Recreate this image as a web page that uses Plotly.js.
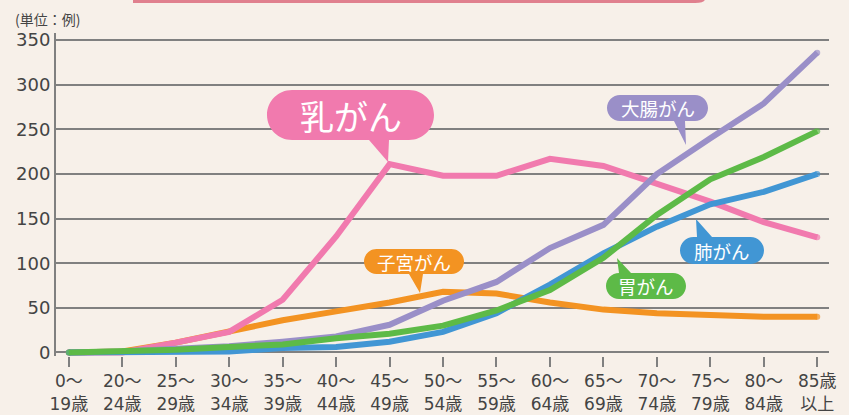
<!DOCTYPE html>
<html>
<head>
<meta charset="utf-8">
<script src="https://cdn.plot.ly/plotly-3.0.1.min.js"></script>
<style>
html,body{margin:0;padding:0;background:#f7f0e9;}
#chart{width:849px;height:415px;}
</style>
</head>
<body>
<div id="chart"></div>
<script>
// ---- data ----
const categories = ["0〜<br>19歳","20〜<br>24歳","25〜<br>29歳","30〜<br>34歳","35〜<br>39歳","40〜<br>44歳","45〜<br>49歳","50〜<br>54歳","55〜<br>59歳","60〜<br>64歳","65〜<br>69歳","70〜<br>74歳","75〜<br>79歳","80〜<br>84歳","85歳<br>以上"];
const uterus     = [0,1,11,23,36,46,56,68,66,56,48,44,42,40,40];
const breast     = [0,0,11,23,59,130,211,198,198,217,209,189,169,146,129];
const colorectal = [0,1,4,7,12,18,31,58,79,117,143,200,240,279,336];
const lung       = [0,0,1,1,5,6,12,23,44,76,111,141,166,180,200];
const stomach    = [0,1,3,6,9,16,21,30,47,70,106,154,194,219,248];
const yTicks = [0,50,100,150,200,250,300,350];
const seriesNames = ["子宮がん","乳がん","大腸がん","肺がん","胃がん"];

// ---- layout geometry ----
const W = 849, H = 415;
const M = {l:56, r:20, t:33, b:59};
const PW = W - M.l - M.r, PH = H - M.t - M.b;
const px = x => (x - M.l) / PW;
const py = y => 1 - (y - M.t) / PH;
const FONT = '"Noto Sans CJK JP", "Noto Sans", sans-serif';
const NUMFONT = '"DejaVu Sans", "Noto Sans CJK JP", sans-serif';

const colors = {
  uterus:'#f39322', breast:'#f17aae', colorectal:'#9a8fc8', lung:'#4196d4', stomach:'#5dba47'
};

function endMarkers(n){ const s = new Array(n).fill(0); s[0]=6; s[n-1]=6; return s; }

function trace(name, y, color){
  return {
    type:'scatter', mode:'lines+markers', name:name,
    x:categories, y:y,
    line:{color:color, width:6},
    marker:{color:color, size:endMarkers(y.length), line:{width:0}},
    hoverinfo:'skip', showlegend:false
  };
}

const data = [
  trace(seriesNames[0], uterus, colors.uterus),
  trace(seriesNames[1], breast, colors.breast),
  trace(seriesNames[2], colorectal, colors.colorectal),
  trace(seriesNames[3], lung, colors.lung),
  trace(seriesNames[4], stomach, colors.stomach)
];

// bubble path in pixel space -> paper coords
function bubble(x0,y0,x1,y1,tip){
  const r = (y1-y0)/2, k = 0.5523*r;
  const P = (x,y) => px(x).toFixed(5)+','+py(y).toFixed(5);
  let d = 'M'+P(x0+r,y0);
  if(tip.side==='top'){ d += ' L'+P(tip.a,y0)+' L'+P(tip.x,tip.y)+' L'+P(tip.b,y0); }
  d += ' L'+P(x1-r,y0);
  d += ' C'+P(x1-r+k,y0)+' '+P(x1,y0+r-k)+' '+P(x1,y0+r);
  d += ' C'+P(x1,y0+r+k)+' '+P(x1-r+k,y1)+' '+P(x1-r,y1);
  if(tip.side==='bottom'){ d += ' L'+P(tip.b,y1)+' L'+P(tip.x,tip.y)+' L'+P(tip.a,y1); }
  d += ' L'+P(x0+r,y1);
  d += ' C'+P(x0+r-k,y1)+' '+P(x0,y1-r+k)+' '+P(x0,y1-r);
  d += ' C'+P(x0,y0+r-k)+' '+P(x0+r-k,y0)+' '+P(x0+r,y0)+' Z';
  return d;
}

const bubbles = [
  {text:'乳がん', color:colors.breast, x0:267,y0:90,x1:434,y1:140, size:34,
   tip:{side:'bottom',a:369,b:389,x:388,y:162}},
  {text:'大腸がん', color:colors.colorectal, x0:607,y0:95,x1:708,y1:121, size:18.5,
   tip:{side:'bottom',a:674,b:685,x:686,y:145}},
  {text:'子宮がん', color:colors.uterus, x0:364,y0:249,x1:464,y1:274, size:18.5,
   tip:{side:'bottom',a:409,b:423,x:420,y:293}},
  {text:'肺がん', color:colors.lung, x0:680,y0:237,x1:764,y1:264, size:18.5,
   tip:{side:'top',a:697,b:712,x:696,y:219}},
  {text:'胃がん', color:colors.stomach, x0:606,y0:273,x1:686,y1:299, size:18.5,
   tip:{side:'top',a:619,b:631,x:617,y:258}}
];

const shapes = [
  // top banner edge
  {type:'path', xref:'paper', yref:'paper', layer:'above', line:{width:0}, fillcolor:'#e0808e',
   path:'M'+px(133)+','+py(-20)+' L'+px(705)+','+py(-20)+' L'+px(705)+','+py(-1)+
        ' Q'+px(705)+','+py(3)+' '+px(695)+','+py(3)+' L'+px(133)+','+py(3)+' Z'}
];
const annotations = [
  {xref:'paper', yref:'paper', x:px(13), y:py(19), xanchor:'left', yanchor:'middle',
   text:'(単位：例)', showarrow:false, font:{family:FONT, size:14, color:'#444'}}
];
bubbles.forEach(b=>{
  shapes.push({type:'path', xref:'paper', yref:'paper', layer:'above', line:{width:0},
               fillcolor:b.color, path:bubble(b.x0,b.y0,b.x1,b.y1,b.tip)});
  annotations.push({xref:'paper', yref:'paper', x:px((b.x0+b.x1)/2), y:py((b.y0+b.y1)/2),
    xanchor:'center', yanchor:'middle', text:b.text, showarrow:false,
    font:{family:FONT, size:b.size, color:'#ffffff'}});
});

const layout = {
  width:W, height:H,
  margin:{l:M.l, r:M.r, t:M.t, b:M.b, pad:0},
  paper_bgcolor:'#f7f0e9', plot_bgcolor:'#f7f0e9',
  font:{family:FONT, size:18, color:'#444'},
  xaxis:{
    type:'category', categoryorder:'array', categoryarray:categories,
    range:[-0.24, 14.22], showgrid:false, showline:false, zeroline:false,
    ticks:'outside', ticklen:10, tickwidth:2, tickcolor:'#808080',
    tickfont:{family:NUMFONT, size:17, color:'#444'}, fixedrange:true
  },
  yaxis:{
    range:[-4, 358], tickvals:yTicks, ticktext:yTicks.map(String),
    showgrid:true, gridcolor:'#808080', gridwidth:2,
    zeroline:true, zerolinecolor:'#808080', zerolinewidth:2,
    showline:true, linecolor:'#808080', linewidth:2,
    ticks:'', tickfont:{family:NUMFONT, size:18, color:'#444'}, fixedrange:true
  },
  shapes:shapes,
  annotations:annotations
};

Plotly.newPlot('chart', data, layout, {displayModeBar:false, staticPlot:true});
</script>
</body>
</html>
